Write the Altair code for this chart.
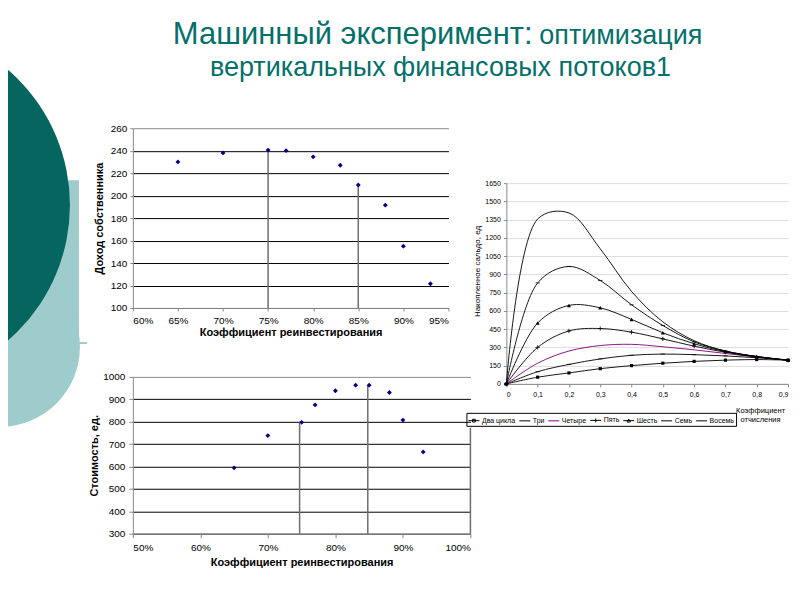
import altair as alt
import pandas as pd

FONT = "Liberation Sans"
TEAL = "#04706a"
DARK = "#04665f"
LIGHT = "#9ecbcc"
NAVY = "#000080"
DROP = "#6e6e6e"

# ---------------- data ----------------
title_line1a = "Машинный эксперимент:"
title_line1b = "оптимизация"
title_line2 = "вертикальных финансовых потоков1"

# top-left: owner's income vs reinvestment coefficient
tl_x = [0.65, 0.70, 0.75, 0.77, 0.80, 0.83, 0.85, 0.88, 0.90, 0.93]
tl_y = [230, 238, 240.5, 240, 234.5, 227, 209.5, 191.5, 155, 121.5]
tl_drop_x = [0.75, 0.85]
tl_drop_top = [240.5, 209.5]
tl_drop_bottom = [100, 100]
tl_ticks_x = [0.60, 0.65, 0.70, 0.75, 0.80, 0.85, 0.90, 0.95]
tl_ticks_y = [100, 120, 140, 160, 180, 200, 220, 240, 260]

# bottom-left: value vs reinvestment coefficient
bl_x = [0.65, 0.70, 0.75, 0.77, 0.80, 0.83, 0.85, 0.88, 0.90, 0.93]
bl_y = [594, 738, 797, 875, 938, 963, 963, 930, 807, 665]
bl_drop_x = [0.747, 0.848, 1.0]
bl_drop_top = [800, 962, 773]
bl_drop_bottom = [300, 300, 300]
bl_ticks_x = [0.5, 0.6, 0.7, 0.8, 0.9, 1.0]
bl_ticks_y = [300, 400, 500, 600, 700, 800, 900, 1000]

# right: accumulated balance vs deduction coefficient
rc_x = [0.0, 0.1, 0.2, 0.3, 0.4, 0.5, 0.6, 0.7, 0.8, 0.9]
rc_ticks_y = [0, 150, 300, 450, 600, 750, 900, 1050, 1200, 1350, 1500, 1650]
series_names = ["Два цикла", "Три", "Четыре", "Пять", "Шесть", "Семь", "Восемь"]
series_colors = ["black", "black", "#800080", "black", "black", "black", "black"]
s_two = [0, 55, 90, 125, 150, 170, 185, 195, 200, 195]
s_three = [0, 100, 160, 205, 235, 245, 240, 230, 215, 195]
s_four = [0, 170, 270, 315, 325, 305, 280, 250, 220, 195]
s_five = [0, 300, 435, 455, 425, 370, 310, 260, 220, 195]
s_six = [0, 500, 645, 625, 530, 420, 330, 265, 225, 195]
s_seven = [0, 830, 965, 850, 650, 480, 345, 270, 225, 195]
s_eight = [0, 1355, 1405, 1110, 760, 510, 355, 270, 225, 195]
series_values = [s_two, s_three, s_four, s_five, s_six, s_seven, s_eight]

legend_paths = [
    "M-1,0H1M-0.25,-0.25H0.25V0.25H-0.25Z",
    "M-1,0H1",
    "M-1,0H1",
    "M-1,0H1M0,-0.35V0.35",
    "M-1,0H1M-0.3,0.25L0,-0.3L0.3,0.25Z",
    "M-1,0H1",
    "M-1,0H1",
]

NOVIEW = alt.ViewBackground(stroke="transparent", strokeWidth=0)


def grid_color(top):
    return {"condition": {"test": f"datum.value == {top}", "value": "#8c8c8c"}, "value": "black"}


# ---------------- title panel ----------------
def title_text(txt, x, y, size, align):
    return alt.Chart(pd.DataFrame({"t": [txt]})).mark_text(
        align=align, baseline="alphabetic", font=FONT, fontSize=size, color=TEAL
    ).encode(text="t:N", x=alt.value(x), y=alt.value(y))


title_panel = alt.layer(
    title_text(title_line1a, 40, 36, 31, "left"),
    title_text(title_line1b, 407, 36, 27, "left"),
    title_text(title_line2, 308, 68, 27, "center"),
).properties(width=620, height=80, view=NOVIEW)

# ---------------- top-left chart ----------------
tl_df = pd.DataFrame({"x": tl_x, "y": tl_y})
tl_drop = pd.DataFrame({"x": tl_drop_x, "top": tl_drop_top, "bottom": tl_drop_bottom})
tl_xs = alt.Scale(domain=[0.60, 0.95], nice=False, zero=False)
tl_ys = alt.Scale(domain=[100, 260], nice=False, zero=False)
tl_xaxis = alt.Axis(values=tl_ticks_x, format=".0%", grid=False, title="Коэффициент реинвестирования",
                    labelPadding=5, titlePadding=1, tickSize=3)
tl_yaxis = alt.Axis(values=tl_ticks_y, grid=True, gridColor=grid_color(260), title="Доход собственника",
                    format="d", tickSize=3, labelPadding=3, titlePadding=6)
tl_rules = alt.Chart(tl_drop).mark_rule(color=DROP, strokeWidth=1.5).encode(
    x=alt.X("x:Q", scale=tl_xs, axis=tl_xaxis),
    y=alt.Y("top:Q", scale=tl_ys, axis=tl_yaxis),
    y2="bottom:Q",
)
tl_points = alt.Chart(tl_df).mark_point(shape="diamond", filled=True, color=NAVY, size=24, opacity=1).encode(
    x=alt.X("x:Q", scale=tl_xs, axis=tl_xaxis),
    y=alt.Y("y:Q", scale=tl_ys, axis=tl_yaxis),
)
tl = alt.layer(tl_rules, tl_points).properties(width=316, height=180, view=NOVIEW)

# ---------------- bottom-left chart ----------------
bl_df = pd.DataFrame({"x": bl_x, "y": bl_y})
bl_drop = pd.DataFrame({"x": bl_drop_x, "top": bl_drop_top, "bottom": bl_drop_bottom})
bl_xs = alt.Scale(domain=[0.5, 1.0], nice=False, zero=False)
bl_ys = alt.Scale(domain=[300, 1000], nice=False, zero=False)
bl_xaxis = alt.Axis(values=bl_ticks_x, format=".0%", grid=False, title="Коэффициент реинвестирования",
                    labelPadding=5, titlePadding=4, tickSize=4)
bl_yaxis = alt.Axis(values=bl_ticks_y, grid=True, gridColor=grid_color(1000), title="Стоимость, ед.",
                    format="d", tickSize=4, labelPadding=4, titlePadding=3)
bl_rules = alt.Chart(bl_drop).mark_rule(color=DROP, strokeWidth=1.5).encode(
    x=alt.X("x:Q", scale=bl_xs, axis=bl_xaxis),
    y=alt.Y("top:Q", scale=bl_ys, axis=bl_yaxis),
    y2="bottom:Q",
)
bl_points = alt.Chart(bl_df).mark_point(shape="diamond", filled=True, color=NAVY, size=24, opacity=1).encode(
    x=alt.X("x:Q", scale=bl_xs, axis=bl_xaxis),
    y=alt.Y("y:Q", scale=bl_ys, axis=bl_yaxis),
)
bl = alt.layer(bl_rules, bl_points).properties(width=338, height=157, view=NOVIEW)

# ---------------- right chart ----------------
rows = []
for name, vals in zip(series_names, series_values):
    for xv, v in zip(rc_x, vals):
        rows.append({"series": name, "x": xv, "v": v})
rc_df = pd.DataFrame(rows)

rc_xs = alt.Scale(domain=[0, 0.9], nice=False, zero=False)
rc_ys = alt.Scale(domain=[0, 1650], nice=False, zero=False)
rc_xaxis = alt.Axis(values=rc_x, grid=False,
                    labelExpr="datum.value == 0 ? '0' : replace(format(datum.value, '.1f'), '.', ',')",
                    labelFontSize=7, tickSize=3, labelPadding=4,
                    title=["Коэффициент", "отчисления"], titleFontSize=7.5, titleFontWeight="normal",
                    titleX=254, titleY=23, titleAlign="center", titleBaseline="top", titleLineHeight=9)
rc_yaxis = alt.Axis(values=rc_ticks_y, grid=True, format="d", labelFontSize=7, tickSize=3, labelPadding=3,
                    title="Накопленное сальдо, ед", titleFontSize=8, titleFontWeight="normal",
                    titleX=-29, titleY=88, titleAlign="center", titleBaseline="middle", titleAngle=270)
RX = alt.X("x:Q", scale=rc_xs, axis=rc_xaxis)
RY = alt.Y("v:Q", scale=rc_ys, axis=rc_yaxis)

# the legend is lifted to the top-level group, so it is placed in top-level coordinates
leg_params = dict(title=None, orient="none", legendX=459, legendY=405, direction="horizontal", columns=7,
                  strokeColor="black", padding=1.5, labelFont=FONT, labelFontSize=7, labelColor="black",
                  symbolSize=121, symbolStrokeWidth=1, symbolOpacity=1, columnPadding=1, labelOffset=2,
                  symbolFillColor="transparent")

rc_base = alt.Chart(rc_df)
rc_lines = rc_base.mark_line(interpolate="catmull-rom", strokeWidth=0.9).encode(
    x=RX, y=RY,
    color=alt.Color("series:N", scale=alt.Scale(domain=series_names, range=series_colors),
                    legend=alt.Legend(**leg_params)),
)
m_sq = rc_base.transform_filter("datum.series == 'Два цикла'").mark_point(
    shape="square", filled=True, color="black", size=10, opacity=1).encode(x=RX, y=RY)
m_tri = rc_base.transform_filter("datum.series == 'Шесть'").mark_point(
    shape="triangle-up", filled=True, color="black", size=16, opacity=1).encode(x=RX, y=RY)
m_plus = rc_base.transform_filter("datum.series == 'Пять'").mark_point(
    shape="M-1,0H1M0,-1V1", filled=False, color="black", size=18, strokeWidth=0.8, opacity=1).encode(x=RX, y=RY)
m_dash = rc_base.transform_filter("datum.series == 'Три' || datum.series == 'Семь'").mark_point(
    shape="M-1,0H1", filled=False, color="black", size=18, strokeWidth=0.8, opacity=1).encode(x=RX, y=RY)

leg_layer = alt.Chart(pd.DataFrame({"series": series_names})).mark_point(
    filled=False, opacity=0, strokeWidth=1).encode(
    x=alt.value(0), y=alt.value(0),
    shape=alt.Shape("series:N", scale=alt.Scale(domain=series_names, range=legend_paths),
                    legend=alt.Legend(**leg_params)),
)
right = alt.layer(rc_lines, m_sq, m_tri, m_plus, m_dash, leg_layer).properties(
    width=282, height=201, view=NOVIEW)

spacer = alt.Chart(pd.DataFrame({"a": [0]})).mark_point(opacity=0).encode(
    x=alt.value(0), y=alt.value(0)).properties(width=282, height=45, view=NOVIEW)

# ---------------- decorative slide shapes ----------------
ox, oy = 8, 8
d0 = pd.DataFrame({"a": [0]})
dec_rect = alt.Chart(d0).mark_rect(color=LIGHT, clip=True).encode(
    x=alt.value(-10 - ox), x2=alt.value(79 - ox), y=alt.value(180 - oy), y2=alt.value(345 - oy))
dec_lcirc = alt.Chart(d0).mark_point(shape="circle", filled=True, color=LIGHT, opacity=1, clip=True).encode(
    x=alt.value(0 - ox), y=alt.value(347 - oy), size=alt.value(4 * 80 * 80))
dec_line = alt.Chart(d0).mark_rule(color=LIGHT, strokeWidth=2, clip=True).encode(
    x=alt.value(78 - ox), x2=alt.value(87 - ox), y=alt.value(343 - oy))
dec_dark = alt.Chart(d0).mark_point(shape="circle", filled=True, color=DARK, opacity=1, clip=True).encode(
    x=alt.value(-109 - ox), y=alt.value(205 - oy), size=alt.value(4 * 179 * 179))
decor = alt.layer(dec_rect, dec_lcirc, dec_line, dec_dark).properties(width=80, height=430, view=NOVIEW)

# ---------------- layout ----------------
leftcol = alt.vconcat(tl, bl, spacing=69).properties(bounds="flush")
rightcol = alt.vconcat(spacer, right, spacing=10).properties(bounds="flush")
inner = alt.hconcat(leftcol, rightcol, spacing=2)
main = alt.vconcat(title_panel, inner, spacing=35)

chart = alt.hconcat(decor, main, spacing=0).properties(
    padding={"left": 0, "top": 0, "right": 0, "bottom": 0}
).configure_view(stroke="transparent", strokeWidth=0).configure_axis(
    labelFont=FONT, titleFont=FONT, labelFontSize=8.5, titleFontSize=9, titleFontWeight="bold",
    labelColor="black", titleColor="black", domainColor="black", tickColor="black",
    gridColor="black", gridWidth=1, domainWidth=1, labelOverlap=False,
).configure(font=FONT)

chart.save("out.html", embed_options={"renderer": "svg", "actions": False})
